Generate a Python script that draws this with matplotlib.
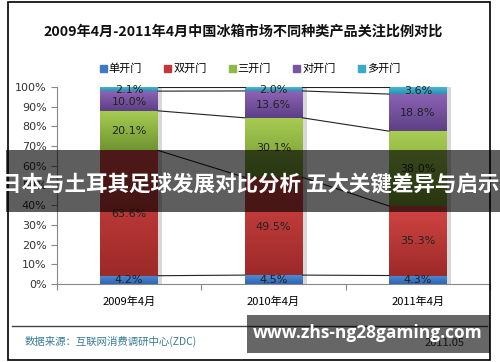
import numpy as np
import matplotlib.pyplot as plt
from matplotlib.patches import Rectangle, Patch

plt.rcParams['font.family'] = ['Noto Sans CJK SC', 'DejaVu Sans']

categories = ["2009年4月", "2010年4月", "2011年4月"]
series_names = ["单开门", "双开门", "三开门", "对开门", "多开门"]
single_door = [4.2, 4.5, 4.3]
double_door = [63.6, 49.5, 35.3]
triple_door = [20.1, 30.1, 38.0]
side_by_side = [10.0, 13.6, 18.8]
multi_door = [2.1, 2.0, 3.6]
title = "2009年4月-2011年4月中国冰箱市场不同种类产品关注比例对比"
banner_text = "日本与土耳其足球发展对比分析 五大关键差异与启示"
url_text = "www.zhs-ng28gaming.com"
source_text = "数据来源：互联网消费调研中心(ZDC)"
date_text = "2011.05"

# top colour, bottom colour of each gradient
colors = [("#4d8ad6", "#2f66b0"),
          ("#d34543", "#9c2a29"),
          ("#a8cc52", "#6f9630"),
          ("#8c64b4", "#5d3f86"),
          ("#4bbcd8", "#2a93b0")]
legend_colors = ["#3f78c4", "#c0393a", "#8fb844", "#7a55a3", "#3aaac8"]

values = np.array([single_door, double_door, triple_door, side_by_side, multi_door])
shares = values / values.sum(axis=0)

fig = plt.figure(figsize=(5, 3.62), dpi=100)
ax = fig.add_axes([0.114, 0.2155, 0.866, 0.5442])

x = np.arange(len(categories))
width = 0.4


def hex_rgb(h):
    return np.array([int(h[i:i + 2], 16) / 255 for i in (1, 3, 5)])


bottoms = np.zeros(len(categories))
tops = []
for s in range(len(series_names)):
    top_c, bot_c = hex_rgb(colors[s][0]), hex_rgb(colors[s][1])
    grad = np.linspace(0, 1, 50)[:, None, None]
    img = top_c * (1 - grad) + bot_c * grad
    img = np.repeat(img, 2, axis=1)
    for i in range(len(categories)):
        y0, y1 = bottoms[i], bottoms[i] + shares[s, i]
        ax.imshow(img, extent=[x[i] - width / 2, x[i] + width / 2, y0, y1],
                  aspect='auto', zorder=2, interpolation='bilinear')
        # shadow
        ax.add_patch(Rectangle((x[i] + width / 2, y0), 0.03, y1 - y0,
                               color="#d8d8d8", zorder=1, lw=0))
        ax.text(x[i], (y0 + y1) / 2 - 0.003, f"{values[s, i]:.1f}%",
                ha='center', va='center', fontsize=8, color="#222222",
                family=['DejaVu Sans'], zorder=4)
    bottoms = bottoms + shares[s]
    tops.append(bottoms.copy())

# series lines
for t in tops:
    for i in range(len(categories) - 1):
        ax.plot([x[i] + width / 2, x[i + 1] - width / 2], [t[i], t[i + 1]],
                color="#222222", lw=0.8, zorder=3)

ax.set_xlim(-0.5, 2.5)
ax.set_ylim(0, 1)
ax.set_yticks(np.arange(0, 1.01, 0.1))
ax.set_yticklabels([f"{int(v)}%" for v in np.arange(0, 101, 10)],
                   family=['DejaVu Sans'])
ax.set_xticks([-0.5, 0.5, 1.5, 2.5], minor=False)
ax.set_xticklabels([])
ax.set_xticks(x, minor=True)
ax.set_xticklabels(categories, minor=True)
ax.tick_params(axis='x', which='minor', length=0, pad=9, labelsize=8)
ax.tick_params(axis='x', which='major', length=4, direction='out', color="#888888")
ax.tick_params(axis='y', labelsize=8, length=4, color="#888888", labelcolor="#333333")
for side in ("top", "right"):
    ax.spines[side].set_visible(False)
ax.spines["left"].set_color("#888888")
ax.spines["bottom"].set_color("#888888")

fig.text(0.486, 0.912, title, ha='center', va='center', fontsize=10.2,
         fontweight='bold', color="#111111")
handles = [Patch(color=c, label=n) for c, n in zip(legend_colors, series_names)]
fig.legend(handles=handles, loc='center', bbox_to_anchor=(0.5, 0.81), ncol=5,
           frameon=False, fontsize=8, handlelength=0.6, handleheight=0.6,
           handletextpad=0.2, columnspacing=2.0)

# figure frame and footer
fig.add_artist(Rectangle((0.016, 0.005), 0.964, 0.99, transform=fig.transFigure,
                         fill=False, ec="black", lw=1.2))
fig.add_artist(plt.Line2D([0.024, 0.974], [0.1, 0.1], transform=fig.transFigure,
                          color="#444444", lw=1))
fig.text(0.05, 0.058, source_text, fontsize=7.5, color="#3a7a96", va='center')
fig.text(0.89, 0.052, date_text, fontsize=8, color="#333333", ha='center', va='center')

# overlay banners
fig.add_artist(Rectangle((0.012, 0.414), 0.988, 0.171, transform=fig.transFigure,
                         color="black", alpha=0.63, lw=0, zorder=5))
fig.text(0.5, 0.49, banner_text, ha='center', va='center', fontsize=15.5,
         fontweight='bold', color="white", zorder=6)
fig.add_artist(Rectangle((0.494, 0.025), 0.486, 0.105, transform=fig.transFigure,
                         color="black", alpha=0.6, lw=0, zorder=5))
fig.text(0.735, 0.08, url_text, ha='center', va='center', fontsize=12.5,
         fontweight='bold', color="white", family=['Open Sans', 'DejaVu Sans'], zorder=6)

fig.savefig("out.png", dpi=100)
